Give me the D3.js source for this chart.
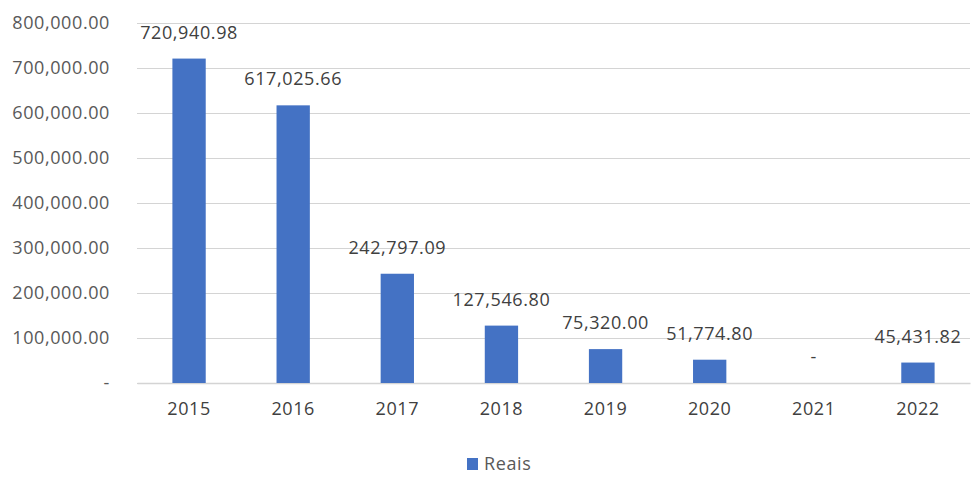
<!DOCTYPE html>
<html>
<head>
<meta charset="utf-8">
<script src="https://cdn.jsdelivr.net/npm/d3@7"></script>
<style>
  html, body { margin: 0; padding: 0; background: #fff; }
  svg { display: block; }
  text { font-family: "Open Sans", "Noto Sans", sans-serif; letter-spacing: 0.6px; }
</style>
</head>
<body>
<svg id="chart" width="973" height="479"></svg>
<script>
// Annual amounts in reais
const years = ["2015", "2016", "2017", "2018", "2019", "2020", "2021", "2022"];
const reais = [720940.98, 617025.66, 242797.09, 127546.80, 75320.00, 51774.80, 0, 45431.82];
const yTicks = [0, 100000, 200000, 300000, 400000, 500000, 600000, 700000, 800000];
const seriesName = "Reais";

const W = 973, H = 479;
const margin = { left: 137, right: 3, top: 23, bottom: 96 };
const svg = d3.select("#chart");

const fmt = v => v === 0 ? "-" : d3.format(",.2f")(v);

const x = d3.scaleBand()
  .domain(years)
  .range([margin.left, W - margin.right])
  .paddingInner(0.68)
  .paddingOuter(0.34);

const y = d3.scaleLinear()
  .domain([0, 800000])
  .range([H - margin.bottom, margin.top]);

// Horizontal gridlines with value ticks
const yAxis = d3.axisLeft(y)
  .tickValues(yTicks)
  .tickSize(-(W - margin.right - margin.left))
  .tickPadding(27)
  .tickFormat(fmt);

const gy = svg.append("g")
  .attr("transform", `translate(${margin.left},0)`)
  .call(yAxis);
gy.select(".domain").remove();
gy.selectAll(".tick line").attr("stroke", "#d4d4d4").attr("stroke-width", 1.2);
gy.selectAll(".tick text")
  .attr("fill", "#595959")
  .style("font-size", "18px");

// Category axis
const xAxis = d3.axisBottom(x).tickSize(0).tickPadding(19);
const gx = svg.append("g")
  .attr("transform", `translate(0,${y(0)})`)
  .call(xAxis);
gx.select(".domain").attr("stroke", "#d4d4d4").attr("stroke-width", 1.5);
gx.selectAll(".tick text")
  .attr("fill", "#404040")
  .style("font-size", "18px");

// Bars
const rows = years.map((yr, i) => ({ yr, v: reais[i] }));
svg.append("g").selectAll("rect")
  .data(rows)
  .join("rect")
  .attr("x", d => x(d.yr))
  .attr("width", x.bandwidth())
  .attr("y", d => y(d.v))
  .attr("height", d => y(0) - y(d.v))
  .attr("fill", "#4472c4");

// Value labels
svg.append("g").selectAll("text")
  .data(rows)
  .join("text")
  .attr("x", d => x(d.yr) + x.bandwidth() / 2)
  .attr("y", d => y(d.v) - 20)
  .attr("text-anchor", "middle")
  .attr("fill", "#404040")
  .style("font-size", "18px")
  .text(d => fmt(d.v));

// Legend
const lg = svg.append("g").attr("transform", "translate(467,458)");
lg.append("rect").attr("width", 11).attr("height", 12).attr("fill", "#4472c4");
lg.append("text")
  .attr("x", 17).attr("y", 12)
  .attr("fill", "#595959")
  .style("font-size", "18px")
  .text(seriesName);
</script>
</body>
</html>
